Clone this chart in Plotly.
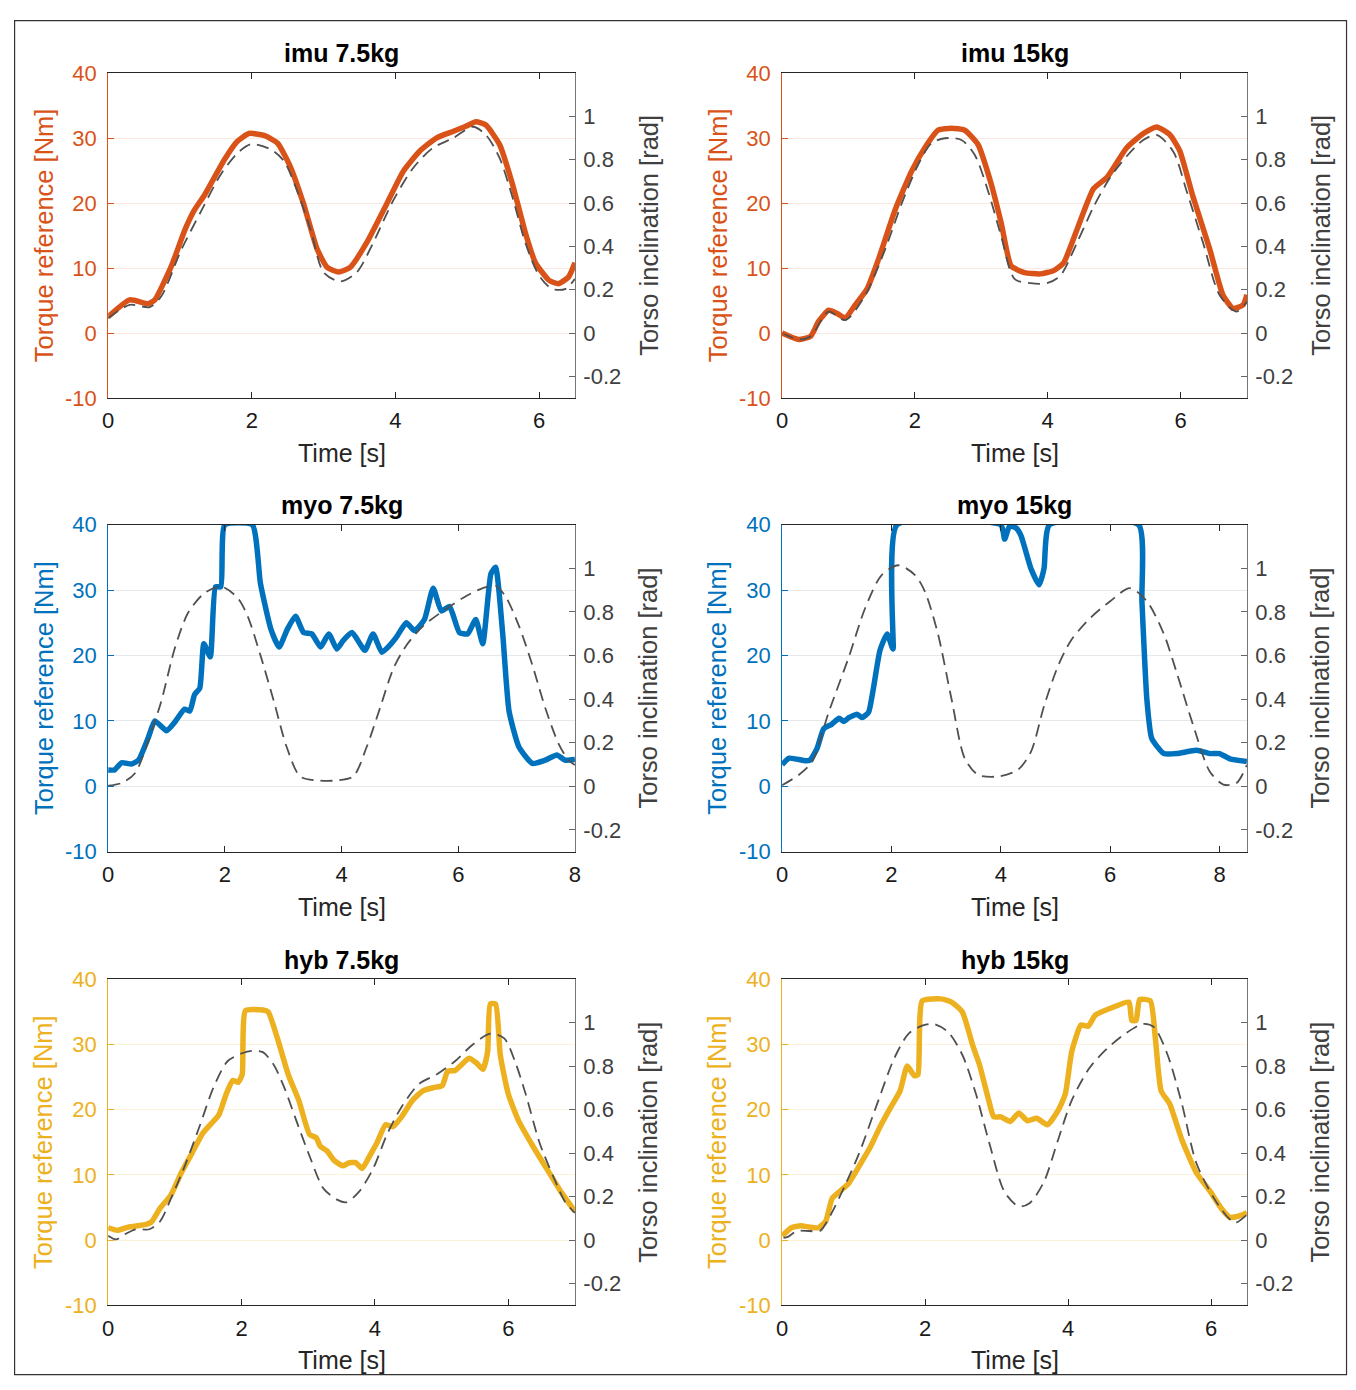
import plotly.graph_objects as go

# ---------------- data ----------------
# imu 7.5kg
imu75_t = [0, 0.30, 0.56, 0.65, 0.88, 1.07, 1.20, 1.34, 1.62, 1.80, 1.96, 2.17, 2.36, 2.54, 2.72, 2.91, 3.05, 3.21, 3.37, 3.60, 3.88, 4.11, 4.34, 4.57, 4.80, 4.98, 5.12, 5.26, 5.45, 5.63, 5.81, 5.95, 6.14, 6.27, 6.41, 6.50]
imu75_torque = [2.5, 5.1, 4.5, 5.1, 10.3, 15.9, 18.9, 21.2, 26.7, 29.5, 30.7, 30.4, 29.2, 25.5, 19.9, 12.9, 10.1, 9.4, 10.1, 13.9, 19.9, 24.9, 28.0, 30.0, 31.0, 31.8, 32.5, 32.0, 29.0, 22.9, 15.4, 10.8, 8.1, 7.6, 8.6, 10.8]
imu75_it = [0, 0.30, 0.58, 0.74, 1.02, 1.30, 1.57, 1.80, 1.99, 2.27, 2.45, 2.63, 2.82, 3.00, 3.23, 3.46, 3.69, 3.97, 4.25, 4.52, 4.80, 5.08, 5.26, 5.45, 5.63, 5.81, 6.00, 6.18, 6.37, 6.50]
imu75_incl = [0.068, 0.13, 0.12, 0.17, 0.385, 0.566, 0.733, 0.83, 0.872, 0.846, 0.793, 0.657, 0.476, 0.28, 0.238, 0.28, 0.416, 0.612, 0.763, 0.854, 0.899, 0.952, 0.914, 0.808, 0.627, 0.416, 0.265, 0.204, 0.204, 0.25]

# imu 15kg
imu15_t = [0, 0.25, 0.43, 0.55, 0.70, 0.83, 0.95, 1.10, 1.28, 1.45, 1.70, 1.95, 2.15, 2.35, 2.55, 2.75, 2.95, 3.15, 3.30, 3.45, 3.65, 3.89, 4.09, 4.24, 4.44, 4.69, 4.89, 5.19, 5.44, 5.64, 5.84, 5.99, 6.19, 6.44, 6.64, 6.79, 6.94, 7.0]
imu15_torque = [0, -1.0, -0.5, 1.8, 3.5, 3.0, 2.3, 4.3, 6.8, 11.3, 18.9, 24.9, 28.5, 31.2, 31.5, 31.2, 29.0, 22.9, 16.9, 10.3, 9.3, 9.1, 9.6, 10.8, 15.9, 22.2, 23.9, 28.5, 30.7, 31.7, 30.5, 28.0, 20.9, 12.9, 5.8, 3.8, 4.3, 5.9]
imu15_it = [0, 0.25, 0.43, 0.70, 0.95, 1.25, 1.55, 1.80, 2.05, 2.25, 2.45, 2.70, 2.90, 3.10, 3.30, 3.50, 3.74, 3.99, 4.19, 4.44, 4.69, 4.94, 5.19, 5.44, 5.64, 5.89, 6.09, 6.34, 6.59, 6.84, 7.0]
imu15_incl = [0, -0.03, -0.015, 0.099, 0.06, 0.174, 0.385, 0.597, 0.778, 0.876, 0.899, 0.891, 0.823, 0.657, 0.446, 0.25, 0.23, 0.23, 0.265, 0.416, 0.582, 0.718, 0.816, 0.891, 0.914, 0.838, 0.657, 0.416, 0.174, 0.099, 0.144]

# myo 7.5kg
myo75_t = [0, 0.11, 0.23, 0.40, 0.52, 0.69, 0.80, 1.00, 1.14, 1.31, 1.40, 1.48, 1.57, 1.64, 1.75, 1.84, 1.93, 2.00, 2.47, 2.61, 2.79, 2.93, 3.07, 3.21, 3.35, 3.49, 3.64, 3.78, 3.92, 4.03, 4.18, 4.40, 4.54, 4.69, 4.82, 4.94, 5.11, 5.25, 5.42, 5.57, 5.71, 5.85, 6.02, 6.16, 6.30, 6.42, 6.56, 6.64, 6.76, 6.87, 7.04, 7.27, 7.49, 7.69, 7.83, 8.0]
myo75_torque = [2.5, 2.5, 3.6, 3.4, 4.0, 7.5, 10.0, 8.5, 9.8, 11.8, 11.5, 14.0, 15.0, 21.8, 19.8, 30.5, 30.5, 40, 40, 31, 24, 21.3, 24.0, 26.0, 23.5, 23.3, 21.3, 23.3, 21.0, 22.3, 23.5, 20.8, 23.3, 20.5, 21.5, 22.8, 25.0, 23.8, 25.5, 30.3, 26.8, 27.5, 23.5, 23.3, 25.5, 21.8, 32.5, 33.5, 23.5, 11.5, 6.0, 3.5, 4.0, 4.8, 4.0, 4.1]
myo75_it = [0, 0.23, 0.46, 0.69, 0.91, 1.14, 1.37, 1.65, 1.94, 2.22, 2.39, 2.61, 2.84, 3.06, 3.29, 3.58, 3.92, 4.20, 4.43, 4.66, 4.89, 5.11, 5.40, 5.74, 6.08, 6.42, 6.64, 6.81, 7.04, 7.27, 7.49, 7.72, 7.89, 8.0]
myo75_incl = [0.003, 0.015, 0.06, 0.21, 0.39, 0.631, 0.796, 0.886, 0.916, 0.864, 0.781, 0.601, 0.39, 0.18, 0.045, 0.027, 0.027, 0.045, 0.18, 0.36, 0.541, 0.646, 0.736, 0.804, 0.864, 0.909, 0.92, 0.871, 0.736, 0.556, 0.36, 0.195, 0.12, 0.098]

# myo 15kg
myo15_t = [0, 0.13, 0.43, 0.51, 0.64, 0.76, 0.91, 1.04, 1.13, 1.22, 1.37, 1.46, 1.58, 1.67, 1.79, 1.92, 2.01, 2.03, 2.10, 4.0, 4.07, 4.16, 4.28, 4.37, 4.55, 4.70, 4.79, 4.89, 6.52, 6.58, 6.67, 6.76, 6.98, 7.22, 7.58, 7.82, 8.0, 8.19, 8.5]
myo15_torque = [3.3, 4.3, 3.9, 4.0, 5.8, 8.8, 9.5, 10.4, 9.9, 10.5, 11.0, 10.5, 11.3, 15.0, 20.8, 23.3, 21.3, 21.0, 40, 40, 37.8, 39.8, 39.5, 38.3, 33.3, 30.8, 33.3, 40, 40, 28.3, 13.3, 7.3, 5.0, 5.0, 5.5, 5.0, 5.0, 4.2, 3.8]
myo15_it = [0, 0.31, 0.55, 0.85, 1.22, 1.52, 1.82, 2.13, 2.43, 2.61, 2.85, 3.10, 3.34, 3.58, 3.95, 4.31, 4.55, 4.79, 5.04, 5.28, 5.64, 6.00, 6.36, 6.67, 6.98, 7.22, 7.52, 7.82, 8.07, 8.31, 8.5]
myo15_incl = [0.005, 0.053, 0.113, 0.338, 0.593, 0.818, 0.969, 1.014, 0.969, 0.894, 0.699, 0.398, 0.128, 0.053, 0.045, 0.075, 0.158, 0.368, 0.548, 0.668, 0.773, 0.849, 0.909, 0.849, 0.699, 0.518, 0.278, 0.068, 0.008, 0.015, 0.098]

# hyb 7.5kg
hyb75_t = [0, 0.14, 0.30, 0.57, 0.65, 0.78, 0.94, 1.10, 1.26, 1.42, 1.55, 1.66, 1.77, 1.87, 1.95, 2.01, 2.06, 2.32, 2.40, 2.54, 2.70, 2.86, 3.02, 3.12, 3.18, 3.28, 3.39, 3.52, 3.60, 3.71, 3.81, 3.92, 4.03, 4.16, 4.27, 4.40, 4.56, 4.72, 4.88, 5.01, 5.09, 5.20, 5.30, 5.41, 5.52, 5.62, 5.69, 5.73, 5.81, 5.88, 6.00, 6.15, 6.37, 6.58, 6.79, 7.0]
hyb75_torque = [1.9, 1.5, 2.0, 2.4, 2.8, 4.9, 6.9, 10.4, 13.4, 16.4, 17.9, 19.2, 22.4, 24.5, 24.2, 25.4, 35.2, 35.3, 35.0, 30.9, 25.4, 21.4, 16.2, 15.7, 14.4, 13.7, 12.2, 11.4, 11.8, 11.9, 11.0, 12.9, 14.9, 17.7, 17.4, 18.9, 21.4, 22.9, 23.4, 23.7, 25.9, 26.0, 26.9, 27.9, 27.2, 26.2, 28.9, 36.2, 36.2, 28.4, 22.4, 18.4, 14.4, 10.9, 7.4, 4.4]
hyb75_it = [0, 0.12, 0.25, 0.41, 0.62, 0.78, 0.94, 1.15, 1.37, 1.58, 1.79, 2.01, 2.16, 2.32, 2.48, 2.64, 2.80, 3.02, 3.23, 3.44, 3.57, 3.76, 3.97, 4.19, 4.40, 4.66, 4.93, 5.20, 5.46, 5.73, 5.94, 6.10, 6.26, 6.47, 6.69, 6.85, 7.0]
hyb75_incl = [0.02, 0.003, 0.027, 0.05, 0.05, 0.087, 0.19, 0.342, 0.523, 0.703, 0.823, 0.86, 0.871, 0.865, 0.808, 0.703, 0.568, 0.387, 0.237, 0.185, 0.174, 0.222, 0.327, 0.492, 0.613, 0.718, 0.763, 0.823, 0.898, 0.95, 0.928, 0.823, 0.673, 0.447, 0.282, 0.177, 0.125]

# hyb 15kg
hyb15_t = [0, 0.13, 0.26, 0.38, 0.51, 0.61, 0.70, 0.83, 0.93, 1.08, 1.23, 1.37, 1.52, 1.65, 1.75, 1.85, 1.90, 1.96, 2.22, 2.37, 2.52, 2.67, 2.76, 2.89, 2.96, 3.06, 3.19, 3.31, 3.43, 3.56, 3.71, 3.86, 3.96, 4.05, 4.18, 4.28, 4.38, 4.60, 4.85, 4.89, 4.95, 5.00, 5.15, 5.22, 5.30, 5.42, 5.59, 5.79, 5.99, 6.14, 6.26, 6.39, 6.5]
hyb15_torque = [0.65, 1.9, 2.2, 2.0, 1.9, 2.9, 6.4, 7.7, 8.7, 11.4, 14.2, 17.4, 20.4, 22.9, 26.7, 25.2, 25.4, 36.7, 37.0, 36.5, 35.0, 29.7, 26.9, 21.4, 18.9, 18.9, 18.2, 19.5, 18.3, 18.7, 17.7, 19.9, 22.4, 28.9, 33.0, 32.8, 34.5, 35.6, 36.5, 33.7, 33.7, 36.9, 36.7, 30.9, 22.9, 20.9, 15.4, 10.4, 7.4, 4.9, 3.5, 3.7, 4.2]
hyb15_it = [0.02, 0.08, 0.21, 0.38, 0.53, 0.68, 0.88, 1.08, 1.33, 1.57, 1.77, 1.97, 2.12, 2.32, 2.52, 2.71, 2.91, 3.11, 3.31, 3.46, 3.66, 3.86, 4.05, 4.30, 4.55, 4.80, 5.05, 5.20, 5.39, 5.59, 5.79, 6.04, 6.24, 6.34, 6.5]
hyb15_incl = [0.01, 0.015, 0.042, 0.042, 0.042, 0.117, 0.252, 0.402, 0.628, 0.838, 0.95, 0.988, 0.995, 0.958, 0.853, 0.673, 0.432, 0.222, 0.155, 0.17, 0.267, 0.462, 0.643, 0.793, 0.883, 0.95, 0.995, 0.98, 0.853, 0.628, 0.357, 0.192, 0.102, 0.08, 0.117]

titles = ["imu 7.5kg", "imu 15kg", "myo 7.5kg", "myo 15kg", "hyb 7.5kg", "hyb 15kg"]
x_max = [6.5, 7.0, 8.0, 8.5, 7.0, 6.5]
x_ticks = [[0, 2, 4, 6], [0, 2, 4, 6], [0, 2, 4, 6, 8], [0, 2, 4, 6, 8], [0, 2, 4, 6], [0, 2, 4, 6]]
torque_ticks = [-10, 0, 10, 20, 30, 40]
torque_labels = ["-10", "0", "10", "20", "30", "40"]
incl_ticks = [-0.2, 0, 0.2, 0.4, 0.6, 0.8, 1]
incl_labels = ["-0.2", "0", "0.2", "0.4", "0.6", "0.8", "1"]

series = [
    (imu75_t, imu75_torque, imu75_it, imu75_incl),
    (imu15_t, imu15_torque, imu15_it, imu15_incl),
    (myo75_t, myo75_torque, myo75_it, myo75_incl),
    (myo15_t, myo15_torque, myo15_it, myo15_incl),
    (hyb75_t, hyb75_torque, hyb75_it, hyb75_incl),
    (hyb15_t, hyb15_torque, hyb15_it, hyb15_incl),
]

ORANGE = "#D95319"
BLUE = "#0072BD"
YELLOW = "#EDB120"
GRID = {ORANGE: "rgba(217,83,25,0.14)", BLUE: "rgba(60,80,110,0.13)", YELLOW: "rgba(237,177,32,0.16)"}
colors = [ORANGE, ORANGE, BLUE, BLUE, YELLOW, YELLOW]

# ---------------- layout geometry (page pixels) ----------------
PAGE_W, PAGE_H = 1356, 1390
OFF = 8                       # default body margin of the html page
W, H = PAGE_W - OFF, PAGE_H - OFF
cols = [(103, 574), (783, 1252)]
rows = [(62, 393), (522, 855), (985, 1317)]


def px(xp):
    return (xp - OFF) / W


def py(yp):
    return 1 - (yp - OFF) / H


FONT = "Liberation Sans, Arial, Helvetica, sans-serif"
fig = go.Figure()
layout = dict(
    width=W, height=H,
    margin=dict(l=0, r=0, t=0, b=0),
    paper_bgcolor="white", plot_bgcolor="white",
    showlegend=False,
    font=dict(family=FONT, size=22, color="#262626"),
)
annotations = []
shapes = []

for i in range(6):
    r, c = divmod(i, 2)
    x0, x1 = cols[c]
    y0, y1 = rows[r]
    col = colors[i]
    xa = "x" if i == 0 else f"x{i+1}"
    ya_l = "y" if i == 0 else f"y{2*i+1}"
    ya_r = f"y{2*i+2}"
    t, tq, it, inc = series[i]

    fig.add_trace(go.Scatter(x=t, y=tq, xaxis=xa, yaxis=ya_l, mode="lines",
                             line=dict(color=col, width=5.5, shape="spline", smoothing=0.5)))
    fig.add_trace(go.Scatter(x=it, y=inc, xaxis=xa, yaxis=ya_r, mode="lines",
                             line=dict(color="#505050", width=1.8, dash="12px,7px",
                                       shape="spline", smoothing=0.8)))

    xdom = [px(x0), px(x1)]
    ydom = [py(y1), py(y0)]
    layout["xaxis" if i == 0 else f"xaxis{i+1}"] = dict(
        domain=xdom, anchor=ya_l, range=[0, x_max[i]], tickvals=x_ticks[i],
        ticks="inside", ticklen=6, tickcolor="#262626", showline=True,
        linecolor="#262626", linewidth=1, mirror="ticks", showgrid=False,
        zeroline=False, tickfont=dict(size=22, color="#1a1a1a"), ticklabelstandoff=3,
    )
    layout["yaxis" if i == 0 else f"yaxis{2*i+1}"] = dict(
        domain=ydom, anchor=xa, range=[-10, 40], tickvals=torque_ticks,
        ticktext=torque_labels,
        ticks="inside", ticklen=6, tickcolor=col, showline=True, linecolor=col,
        linewidth=1, showgrid=True, gridcolor=GRID[col], gridwidth=1, zeroline=False,
        tickfont=dict(size=22, color=col), ticklabelstandoff=6,
    )
    layout[f"yaxis{2*i+2}"] = dict(
        domain=ydom, anchor=xa, overlaying=ya_l, side="right", range=[-0.3, 1.2],
        tickvals=incl_ticks, ticktext=incl_labels, ticks="inside", ticklen=6,
        tickcolor="#666666", showline=True, linecolor="#777777", linewidth=1,
        showgrid=False, zeroline=False, tickfont=dict(size=22, color="#404040"),
        ticklabelstandoff=3,
    )

    xc = px((x0 + x1) / 2)
    annotations.append(dict(text=f"<b>{titles[i]}</b>", x=xc, y=py(y0 - 20),
                            xref="paper", yref="paper", showarrow=False,
                            xanchor="center", yanchor="middle",
                            font=dict(size=25, color="black", family=FONT)))
    annotations.append(dict(text="Time [s]", x=xc, y=py(y1 + 56),
                            xref="paper", yref="paper", showarrow=False,
                            xanchor="center", yanchor="middle",
                            font=dict(size=25, color="#262626", family=FONT)))
    ym = py((y0 + y1) / 2)
    annotations.append(dict(text="Torque reference [Nm]", x=px(x0 - 65), y=ym,
                            xref="paper", yref="paper", showarrow=False, textangle=-90,
                            xanchor="center", yanchor="middle",
                            font=dict(size=25.5, color=col, family=FONT)))
    annotations.append(dict(text="Torso inclination [rad]", x=px(x1 + 74), y=ym,
                            xref="paper", yref="paper", showarrow=False, textangle=-90,
                            xanchor="center", yanchor="middle",
                            font=dict(size=25.5, color="#404040", family=FONT)))

shapes.append(dict(type="rect", xref="paper", yref="paper",
                   x0=px(OFF + 0.6), x1=px(1352.5), y0=py(1387.5), y1=py(OFF + 0.6),
                   line=dict(color="#333333", width=1.2), fillcolor="rgba(0,0,0,0)"))

layout["annotations"] = annotations
layout["shapes"] = shapes
fig.update_layout(**layout)
fig.write_html("out.html")
